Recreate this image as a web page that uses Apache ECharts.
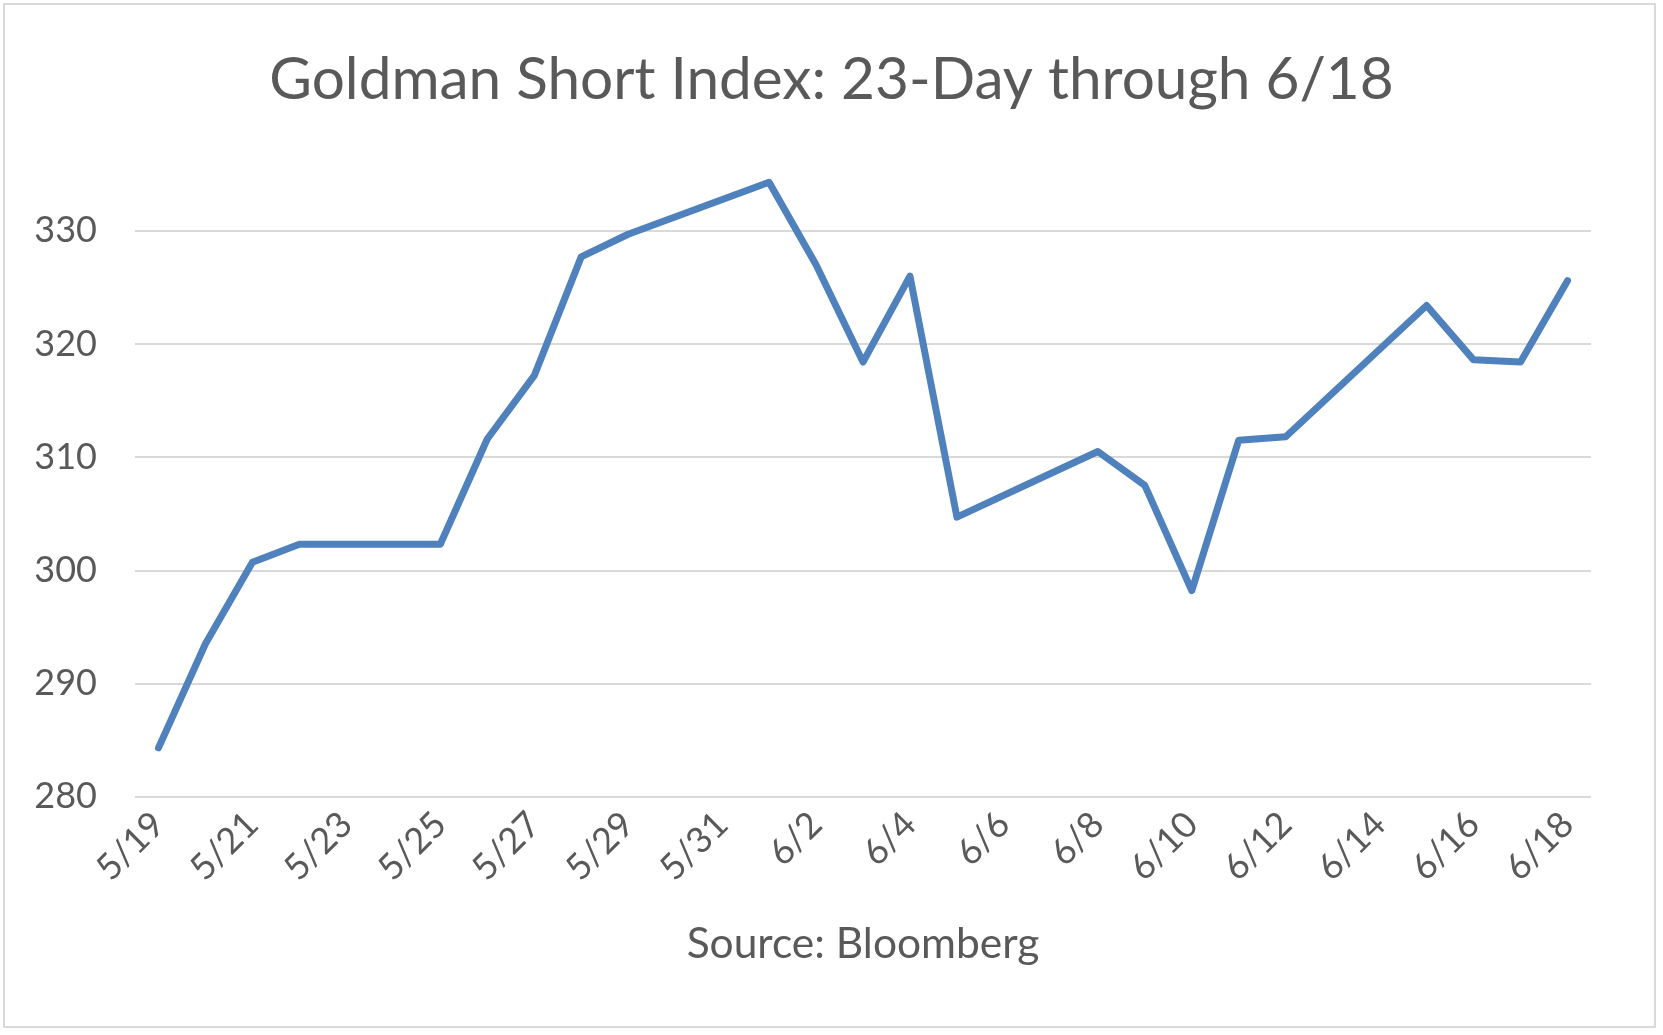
<!DOCTYPE html>
<html>
<head>
<meta charset="utf-8">
<script src="https://cdn.jsdelivr.net/npm/echarts@6/dist/echarts.min.js"></script>
<style>
html,body{margin:0;padding:0;background:#fff;}
#chart{width:1663px;height:1035px;}
</style>
</head>
<body>
<div id="chart"></div>
<script>
// Daily categories (5/19 through 6/18)
const dates = ['5/19','5/20','5/21','5/22','5/23','5/24','5/25','5/26','5/27','5/28','5/29','5/30','5/31',
  '6/1','6/2','6/3','6/4','6/5','6/6','6/7','6/8','6/9','6/10','6/11','6/12','6/13','6/14','6/15','6/16','6/17','6/18'];
// Index values (null = no data; line drawn straight across)
const shortIndex = [284.3, 293.5, 300.7, 302.3, null, null, 302.3, 311.6, 317.2, 327.7, 329.7, null, null,
  334.3, 327.0, 318.4, 326.0, 304.7, null, null, 310.5, 307.5, 298.2, 311.5, 311.8, null, null, 323.4, 318.6, 318.4, 325.6];
const yTicks = { min: 280, max: 336, step: 10 };
const titleText = 'Goldman Short Index: 23-Day through 6/18';
const sourceText = 'Source: Bloomberg';

const FONT = 'Lato, "Open Sans", sans-serif';
const TXT = '#595959';
const chart = echarts.init(document.getElementById('chart'), null, {renderer: 'canvas'});
chart.setOption({
  backgroundColor: '#ffffff',
  animation: false,
  title: {
    text: titleText,
    left: 'center',
    top: 46,
    textStyle: {fontFamily: FONT, fontSize: 58.5, fontWeight: 'normal', color: TXT}
  },
  graphic: [{
    type: 'rect',
    shape: {x: 4, y: 4, width: 1651, height: 1023},
    style: {fill: 'none', stroke: '#d9d9d9', lineWidth: 2},
    silent: true
  }],
  grid: {left: 135, right: 72, top: 163, bottom: 238.5, outerBoundsMode: 'none'},
  xAxis: {
    type: 'category',
    data: dates,
    boundaryGap: true,
    axisLine: {show: false},
    axisTick: {show: false},
    axisLabel: {interval: 1, rotate: 45, fontFamily: FONT, fontSize: 36, color: TXT, margin: 22},
    name: sourceText,
    nameLocation: 'middle',
    nameGap: 126,
    nameTextStyle: {fontFamily: FONT, fontSize: 42.5, color: TXT}
  },
  yAxis: {
    type: 'value',
    min: yTicks.min,
    max: yTicks.max,
    interval: yTicks.step,
    axisLine: {show: false},
    axisTick: {show: false},
    axisLabel: {fontFamily: FONT, fontSize: 36, color: TXT, margin: 38, showMaxLabel: false},
    splitLine: {show: true, showMaxLine: false, lineStyle: {color: '#d9d9d9', width: 2}}
  },
  series: [{
    type: 'line',
    data: shortIndex,
    connectNulls: true,
    symbol: 'none',
    lineStyle: {color: '#4F81BD', width: 7, cap: 'round', join: 'round'},
    itemStyle: {color: '#4F81BD'}
  }]
});
</script>
</body>
</html>
